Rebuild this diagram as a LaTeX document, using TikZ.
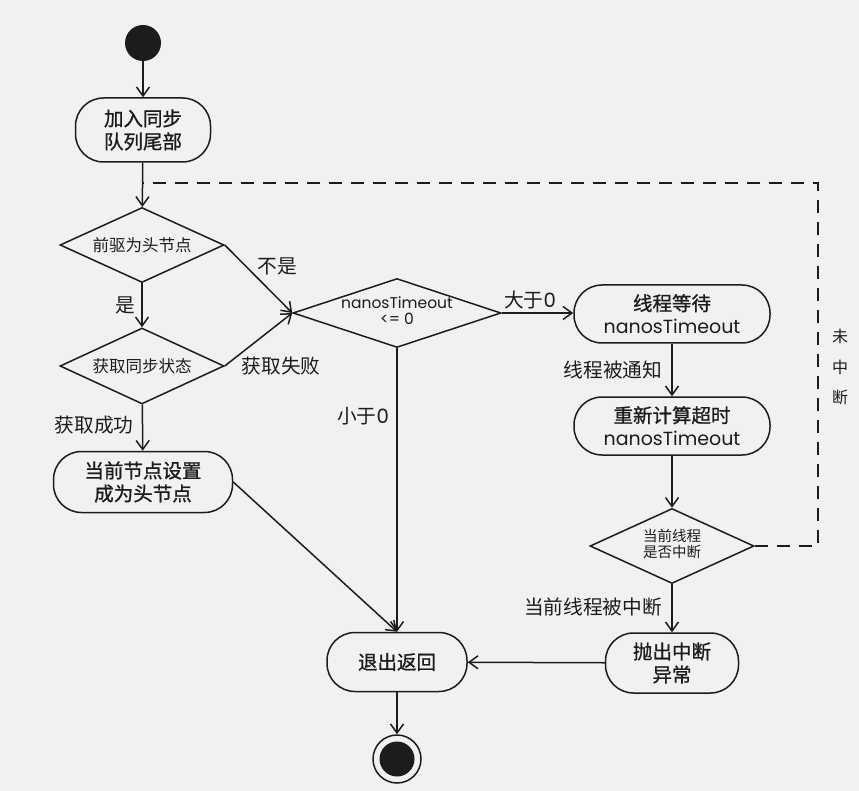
\documentclass[tikz,border=0pt]{standalone}
\usepackage{fontspec}
\setmainfont{Poppins}
\newfontfamily\lat{Poppins}
\newfontfamily\cjk{Noto Sans CJK SC}
\newfontfamily\cjkb[FakeBold=1]{Noto Sans CJK SC}
\usetikzlibrary{shapes.geometric,arrows.meta}
\definecolor{ink}{HTML}{1C1C1C}
\definecolor{bg}{HTML}{F1F1F1}
\begin{document}
\begin{tikzpicture}[x=1pt,y=-1pt,
  actbox/.style={draw=ink, line width=1.5pt, rounded corners=28pt, inner sep=0pt,
    align=center, text=ink, font=\cjkb\fontsize{19.5}{23}\selectfont},
  dia/.style={draw=ink, line width=1.5pt, diamond, aspect=2, inner sep=0pt,
    text=ink, font=\cjk\fontsize{16.5}{19}\selectfont},
  arr/.style={draw=ink, line width=1.5pt, -{Straight Barb[length=9pt,width=13pt]}},
  loopline/.style={draw=ink, line width=1.5pt, dash pattern=on 13pt off 9pt},
  lbl/.style={font=\cjk\fontsize{19.7}{22}\selectfont, text=ink, inner sep=0pt},
  dot/.style={circle, fill=ink, inner sep=0pt, minimum size=#1}]
\useasboundingbox (0,0) rectangle (859,791);
\fill[bg] (0,0) rectangle (859,791);

% start / end
\node[dot=36pt] (s) at (143,43) {};
\node[circle, draw=ink, line width=1.5pt, minimum size=48pt, inner sep=0pt] (e) at (397,759) {};
\node[dot=35pt] (ei) at (397,759) {};

% activities
\node[actbox, minimum width=135pt, minimum height=64pt] (b1) at (143,130) {加入同步\\队列尾部};
\node[actbox, minimum width=179pt, minimum height=61pt] (b2) at (143,482) {当前节点设置\\成为头节点};
\node[actbox, minimum width=196pt, minimum height=58pt] (b3) at (672,314) {线程等待\\{\lat\fontsize{19}{20}\selectfont nanosTimeout}};
\node[actbox, minimum width=196pt, minimum height=58pt] (b4) at (672,426) {重新计算超时\\{\lat\fontsize{19}{20}\selectfont nanosTimeout}};
\node[actbox, minimum width=133pt, minimum height=60pt] (b5) at (672,663) {抛出中断\\异常};
\node[actbox, minimum width=140pt, minimum height=59pt] (b6) at (397,662) {退出返回};

% decisions
\node[dia, minimum width=164pt, minimum height=75pt] (d1) at (142,245) {\makebox[0pt]{前驱为头节点}};
\node[dia, minimum width=164pt, minimum height=76pt] (d2) at (142,366) {\makebox[0pt]{获取同步状态}};
\node[dia, minimum width=208pt, minimum height=69pt] (d3) at (397,313)
  {\makebox[0pt]{\lat\fontsize{15.5}{16}\selectfont\begin{tabular}{@{}c@{}}nanosTimeout\\[-1pt]<= 0\end{tabular}}};
\node[dia, minimum width=164pt, minimum height=75pt] (d4) at (672,546)
  {\makebox[0pt]{\fontsize{14.5}{18}\selectfont\begin{tabular}{@{}c@{}}当前线程\\[-2pt]是否中断\end{tabular}}};

% connectors
\coordinate (loop) at (143,183);
\coordinate (c1) at (818,546);
\draw[arr] (s) -- (b1);
\draw[arr] (b1) -- (d1);
\draw[arr] (d1) -- (d2);
\draw[arr] (d1.east) -- (d3.west);
\draw[arr] (d2.east) -- (d3.west);
\draw[arr] (d2) -- (b2);
\draw[arr] (d3.east) -- (d3.east -| b3.west);
\draw[arr] (d3.south) -- (b6.north);
\draw[arr] (b2.east) -- (b6.north);
\draw[arr] (b3) -- (b4);
\draw[arr] (b4) -- (d4);
\draw[arr] (d4) -- (b5);
\draw[arr] (b5) -- (b6);
\draw[arr] (b6) -- (e);
\draw[loopline] (d4.east) -- (c1) |- (loop);

% labels
\node[lbl] (l1) at (125,305) {是};
\node[lbl] (l2) at (277,266) {不是};
\node[lbl] (l3) at (281,366) {获取失败};
\node[lbl] (l4) at (94,425) {获取成功};
\node[lbl] (l5) at (363,416) {小于{\lat 0}};
\node[lbl] (l6) at (530,300) {大于{\lat 0}};
\node[lbl] (l7) at (613,370) {线程被通知};
\node[lbl] (l8) at (593,607) {当前线程被中断};
\node[lbl, font=\cjk\fontsize{16}{30.5}\selectfont, align=center] (l9) at (840,367) {未\\中\\断};
\end{tikzpicture}
\end{document}
